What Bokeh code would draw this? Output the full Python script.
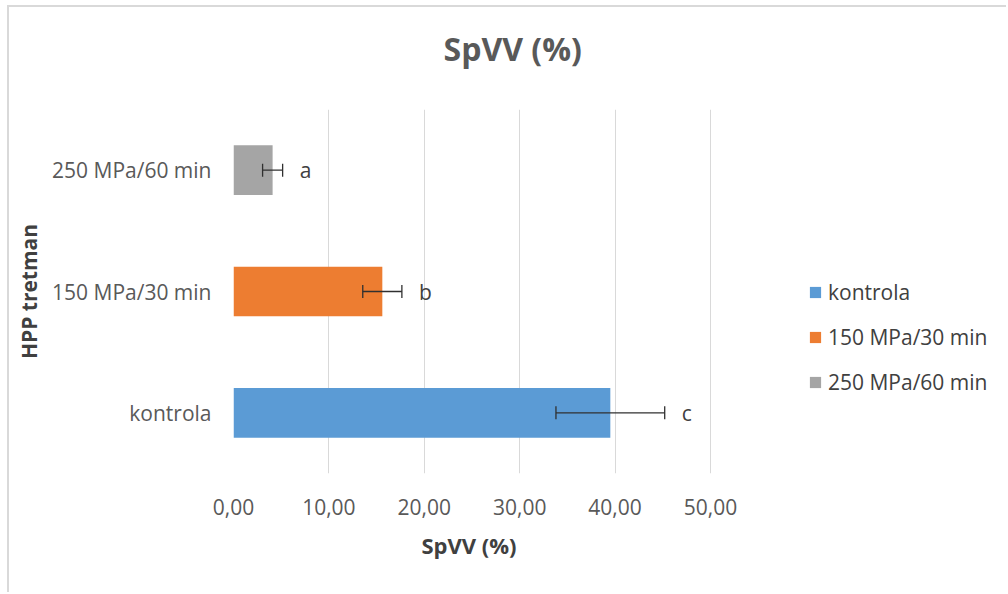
from bokeh.plotting import figure
from bokeh.models import (ColumnDataSource, FactorRange, Range1d, Whisker, TeeHead,
                          LabelSet, Legend, LegendItem, FixedTicker, Title)
from bokeh.core.properties import value
from bokeh.embed import file_html
from bokeh.resources import INLINE

# ---- data ----
categories = ["kontrola", "150 MPa/30 min", "250 MPa/60 min"]
values = [39.5, 15.6, 4.1]
errors = [5.7, 2.05, 1.05]
letters = ["c", "b", "a"]
colors = ["#5B9BD5", "#ED7D31", "#A5A5A5"]
x_ticks = [0, 10, 20, 30, 40, 50]
x_tick_labels = ["0,00", "10,00", "20,00", "30,00", "40,00", "50,00"]
title_text = "SpVV (%)"
x_title = "SpVV (%)"
y_title = "HPP tretman"

FONT = "Open Sans"

# layout: axis 0..50 spans 477 px; frame extended to the right to hold the legend
AXIS_PX = 477
FRAME_PX = 767
x_end = x_ticks[-1] * FRAME_PX / AXIS_PX

src = ColumnDataSource(dict(
    cat=categories,
    val=values,
    lower=[v - e for v, e in zip(values, errors)],
    upper=[v + e for v, e in zip(values, errors)],
    letter=letters,
    color=colors,
))

p = figure(width=999, height=587,
           y_range=FactorRange(factors=categories, range_padding=0),
           x_range=Range1d(0, x_end),
           output_backend="svg", toolbar_location=None,
           min_border_left=224, min_border_right=999 - 224 - FRAME_PX,
           min_border_top=102, min_border_bottom=121)

p.outline_line_color = None
p.background_fill_color = "white"
p.border_fill_color = "white"

# main title
p.title.text = title_text
p.title.text_font = FONT
p.title.text_font_size = "32px"
p.title.text_font_style = "bold"
p.title.text_color = "#595959"
p.title.align = "left"
p.title.offset = 210
p.title.standoff = 0

# spacer title (stacked closest to the frame) so that the main title sits higher
spacer = Title(text=" ", text_font=FONT, text_font_size="12px", standoff=21)
p.add_layout(spacer, "above")

bars = p.hbar(y="cat", right="val", left=0, height=0.41, source=src,
              fill_color="color", line_color=None)

whisk = Whisker(base="cat", lower="lower", upper="upper", dimension="width",
                source=src, line_color="#303030", line_width=1.3, level="overlay",
                upper_head=TeeHead(size=13, line_color="#303030", line_width=1.3),
                lower_head=TeeHead(size=13, line_color="#303030", line_width=1.3))
p.add_layout(whisk)

lbl = LabelSet(x="upper", y="cat", text="letter", source=src, x_offset=17,
               text_align="left", text_baseline="middle", text_font=value(FONT),
               text_font_size="21px", text_color="#404040", level="overlay")
p.add_layout(lbl)

# axes
p.xaxis.ticker = FixedTicker(ticks=x_ticks)
p.xaxis.major_label_overrides = {t: s for t, s in zip(x_ticks, x_tick_labels)}
p.xaxis.axis_line_color = None
p.xaxis.major_tick_line_color = None
p.xaxis.minor_tick_line_color = None
p.xaxis.major_label_text_font = FONT
p.xaxis.major_label_text_font_size = "21px"
p.xaxis.major_label_text_color = "#595959"
p.xaxis.major_label_standoff = 19

xt = Title(text=x_title, text_font=FONT, text_font_size="22px",
           text_font_style="bold", text_color="#404040",
           align="left", offset=188, standoff=20)
p.add_layout(xt, "below")

p.yaxis.axis_line_color = None
p.yaxis.major_tick_line_color = None
p.yaxis.minor_tick_line_color = None
p.yaxis.major_label_text_font = FONT
p.yaxis.major_label_text_font_size = "21px"
p.yaxis.major_label_text_color = "#595959"
p.yaxis.major_label_standoff = 16
p.yaxis.axis_label = y_title
p.yaxis.axis_label_text_font = FONT
p.yaxis.axis_label_text_font_size = "21px"
p.yaxis.axis_label_text_font_style = "bold"
p.yaxis.axis_label_text_color = "#404040"
p.yaxis.axis_label_standoff = 6

p.xgrid.grid_line_color = "#D9D9D9"
p.xgrid.grid_line_width = 1
p.ygrid.grid_line_color = None

legend = Legend(items=[LegendItem(label=c, renderers=[bars], index=i)
                       for i, c in enumerate(categories)],
                location=(575, 77),
                label_text_font=FONT, label_text_font_size="21px",
                label_text_color="#404040",
                glyph_width=14, glyph_height=14, label_height=28,
                spacing=17, label_standoff=6, padding=10, margin=0,
                border_line_color=None, background_fill_alpha=0)
p.add_layout(legend, "center")

p.styles = {"border-top": "2px solid #D9D9D9", "border-left": "2px solid #D9D9D9",
            "margin-left": "7px", "margin-top": "5px"}

open("out.html", "w").write(file_html(p, INLINE))
